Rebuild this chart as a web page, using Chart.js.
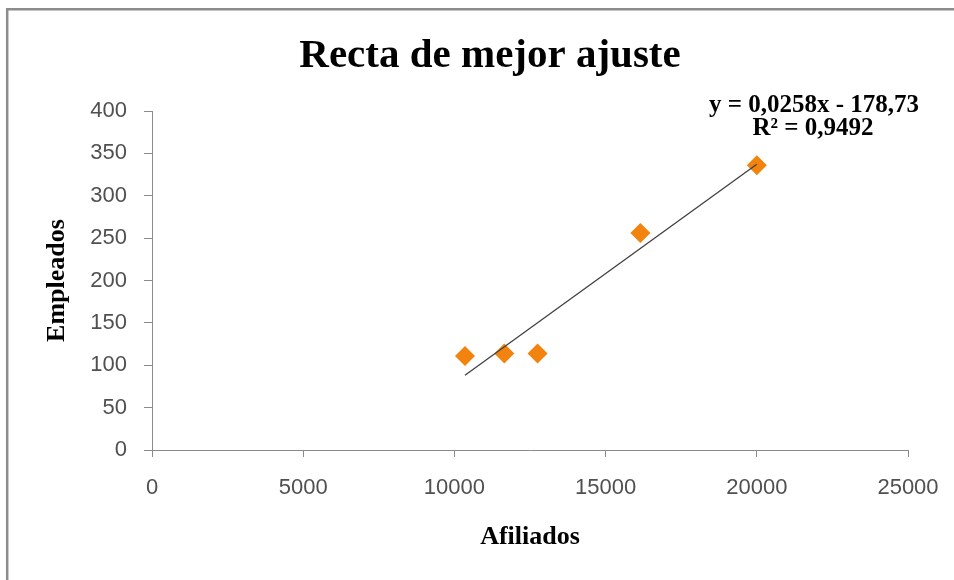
<!DOCTYPE html>
<html>
<head>
<meta charset="utf-8">
<script src="https://cdn.jsdelivr.net/npm/chart.js@4.4.1/dist/chart.umd.min.js"></script>
<style>
  html, body { margin: 0; padding: 0; background: #fff; }
  canvas { display: block; }
</style>
</head>
<body>
<canvas id="chart" width="954" height="580"></canvas>
<script>
// Data
const afiliados = [10350, 11650, 12750, 16150, 20000];
const empleados = [111, 114, 114, 256, 336];

// Trendline as printed on the chart
const slope = 0.0258;
const intercept = -178.73;
const r2Label = 'R² = 0,9492';
const eqLabel = 'y = 0,0258x - 178,73';

const xTicks = [0, 5000, 10000, 15000, 20000, 25000];
const yTicks = [0, 50, 100, 150, 200, 250, 300, 350, 400];

const points = afiliados.map((x, i) => ({ x: x, y: empleados[i] }));
const xMin = Math.min(...afiliados);
const xMax = Math.max(...afiliados);
const trend = [
    { x: xMin, y: slope * xMin + intercept },
    { x: xMax, y: slope * xMax + intercept }
];

const axisColor = '#8a8a8a';
const tickColor = '#505050';

// Frame, title and the trendline equation
const decorations = {
    id: 'decorations',
    beforeDraw(chart) {
        const ctx = chart.ctx;
        ctx.save();
        ctx.fillStyle = '#fff';
        ctx.fillRect(0, 0, chart.width, chart.height);
        ctx.strokeStyle = '#8c8c8c';
        ctx.lineWidth = 2.5;
        ctx.beginPath();
        ctx.moveTo(7.2, chart.height + 5);
        ctx.lineTo(7.2, 9.2);
        ctx.lineTo(chart.width + 5, 9.2);
        ctx.stroke();
        ctx.restore();
    },
    afterDraw(chart) {
        const ctx = chart.ctx;
        ctx.save();
        ctx.fillStyle = '#000';
        ctx.textAlign = 'center';
        ctx.textBaseline = 'alphabetic';
        ctx.font = 'bold 41px "Liberation Serif"';
        ctx.fillText('Recta de mejor ajuste', 490, 67);
        ctx.font = 'bold 25px "Liberation Serif"';
        ctx.fillText(eqLabel, 814, 112);
        ctx.fillText(r2Label, 813, 135);
        ctx.restore();
    }
};

new Chart(document.getElementById('chart'), {
    type: 'scatter',
    data: {
        datasets: [
            {
                type: 'line',
                label: 'Lineal',
                data: trend,
                borderColor: '#404040',
                borderWidth: 1.3,
                pointRadius: 0,
                fill: false,
                order: 0
            },
            {
                label: 'Empleados',
                data: points,
                pointStyle: 'rectRot',
                pointRadius: 10,
                pointBackgroundColor: '#f2830f',
                pointBorderWidth: 0,
                order: 1
            }
        ]
    },
    options: {
        responsive: false,
        animation: false,
        devicePixelRatio: 1,
        layout: {
            padding: { top: 111, right: 46, left: 0, bottom: 0 }
        },
        plugins: {
            legend: { display: false },
            tooltip: { enabled: false },
            title: { display: false }
        },
        scales: {
            x: {
                type: 'linear',
                min: 0,
                max: 25000,
                afterFit: scale => {
                    scale.height = 130;
                    scale.paddingLeft = 0;
                    scale.paddingRight = 0;
                },
                afterBuildTicks: scale => { scale.ticks = xTicks.map(v => ({ value: v })); },
                grid: { drawOnChartArea: false, color: axisColor, tickLength: 7 },
                border: { color: axisColor, width: 1 },
                ticks: {
                    padding: 18,
                    color: tickColor,
                    font: { family: 'Liberation Sans', size: 22 },
                    callback: v => String(v)
                },
                title: {
                    display: true,
                    text: 'Afiliados',
                    color: '#000',
                    font: { family: 'Liberation Serif', size: 26, weight: 'bold' },
                    padding: { top: 0, bottom: 27 }
                }
            },
            y: {
                type: 'linear',
                min: 0,
                max: 400,
                afterFit: scale => {
                    scale.width = 152;
                    scale.paddingTop = 0;
                    scale.paddingBottom = 0;
                },
                afterBuildTicks: scale => { scale.ticks = yTicks.map(v => ({ value: v })); },
                grid: { drawOnChartArea: false, color: axisColor, tickLength: 8 },
                border: { color: axisColor, width: 1 },
                ticks: {
                    padding: 17,
                    color: tickColor,
                    font: { family: 'Liberation Sans', size: 22 },
                    callback: v => String(v)
                },
                title: {
                    display: true,
                    text: 'Empleados',
                    color: '#000',
                    font: { family: 'Liberation Serif', size: 26, weight: 'bold' },
                    padding: { top: 42, bottom: 0 }
                }
            }
        }
    },
    plugins: [decorations]
});
</script>
</body>
</html>
